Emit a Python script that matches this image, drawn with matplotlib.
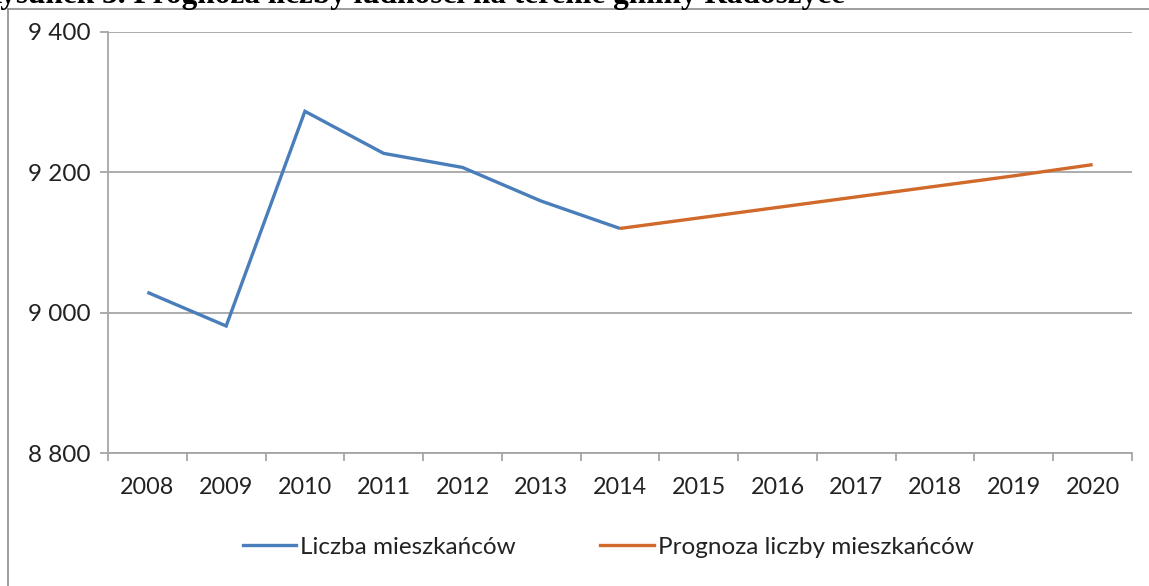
import matplotlib
matplotlib.use("Agg")
import matplotlib.pyplot as plt
from matplotlib.lines import Line2D
from matplotlib.ticker import FuncFormatter

years = [str(y) for y in range(2008, 2021)]
actual_years = years[:7]
actual_values = [9029, 8981, 9287, 9227, 9207, 9159, 9120]
forecast_years = years[6:]
forecast_values = [9120, 9135, 9150, 9165, 9180, 9195, 9211]
y_ticks = [8800, 9000, 9200, 9400]
series_names = ["Liczba mieszkańców", "Prognoza liczby mieszkańców"]
title = "Rysunek 3. Prognoza liczby ludności na terenie gminy Radoszyce"

W, H = 1149, 586
fig = plt.figure(figsize=(W / 100, H / 100), dpi=100)
fig.patch.set_facecolor("white")

blue = "#4A7EBB"
orange = "#D0692A"
grid_c = "#A6A6A6"
font = "Lato"
tsize = 16.8

ax = fig.add_axes([108 / W, 1 - 453 / H, (1132 - 108) / W, (453 - 32) / H])
idx = {y: i for i, y in enumerate(years)}
ax.plot([idx[y] for y in actual_years], actual_values, color=blue, lw=2.4,
        solid_joinstyle="miter", solid_capstyle="butt", zorder=3)
ax.plot([idx[y] for y in forecast_years], forecast_values, color=orange, lw=2.4,
        solid_joinstyle="miter", solid_capstyle="butt", zorder=3)

ax.set_xlim(-0.5, len(years) - 0.5)
ax.set_ylim(8800, 9400)
ax.set_yticks(y_ticks)
ax.yaxis.set_major_formatter(FuncFormatter(lambda v, p: f"{int(v):,}".replace(",", " ")))
ax.set_xticks(range(len(years)))
ax.set_xticklabels(years)
ax.set_xticks([i - 0.5 for i in range(len(years) + 1)], minor=True)
ax.tick_params(axis="x", which="major", length=0, pad=17, labelsize=tsize, labelcolor="#222222")
ax.tick_params(axis="x", which="minor", length=5.8, width=1.3, color=grid_c, direction="out")
ax.tick_params(axis="y", which="major", length=5.8, width=1.3, color=grid_c, pad=7,
               labelsize=17.5, labelcolor="#222222")
for lab in ax.get_xticklabels() + ax.get_yticklabels():
    lab.set_fontfamily(font)

ax.grid(axis="y", color=grid_c, lw=1.3)
ax.set_axisbelow(True)
for s in ["top", "right"]:
    ax.spines[s].set_visible(False)
for s in ["left", "bottom"]:
    ax.spines[s].set_color(grid_c)
    ax.spines[s].set_linewidth(1.3)

# legend
handles = [Line2D([], [], color=blue, lw=2.4), Line2D([], [], color=orange, lw=2.4)]
leg = fig.legend(handles, series_names, loc="center", bbox_to_anchor=(608 / W, 1 - 547 / H),
                 ncol=2, frameon=False, prop={"family": font, "size": 17.5},
                 handlelength=2.2, handletextpad=0.15, columnspacing=3.5)
for t in leg.get_texts():
    t.set_color("#222222")

# outer chart frame
fig.add_artist(Line2D([8 / W, 8 / W], [0, 1 - 9 / H], color="#8C8C8C", lw=1.2,
                      transform=fig.transFigure))
fig.add_artist(Line2D([8 / W, 1], [1 - 9 / H, 1 - 9 / H], color="#8C8C8C", lw=1.2,
                      transform=fig.transFigure))

# cropped title (only lower part visible)
fig.text(845 / W, 1 - 3 / H, title, ha="right", va="baseline",
         fontfamily="Liberation Serif", fontweight="bold", fontsize=22.5, color="black")

fig.savefig("out.png", dpi=100, facecolor="white")
